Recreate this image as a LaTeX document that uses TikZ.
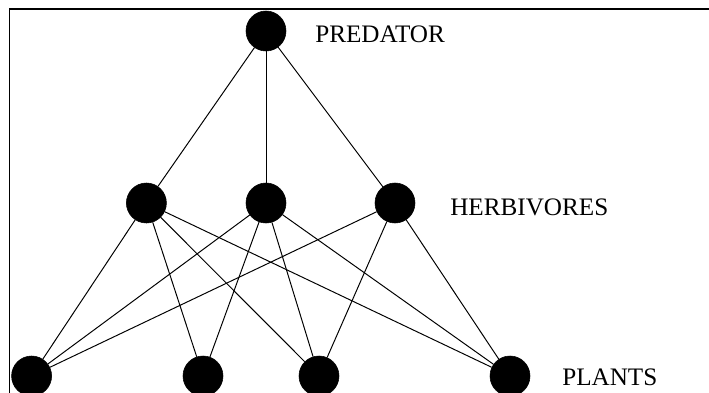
\documentclass[tikz,border=0pt]{standalone}
\usepackage{fontspec}
\setmainfont{Liberation Serif}
\begin{document}
\begin{tikzpicture}[
    species/.style={draw, circle, fill=black, minimum size=1cm, inner sep=0pt},
    link/.style={line width=0.7pt},
    level/.style={inner sep=0pt, anchor=base west, font=\fontsize{17.9}{20}\selectfont}
  ]
  \clip (0,0) rectangle (17.725,9.8);

  % frame
  \draw[line width=1.2pt] (0.24,-1) rectangle (18.5,9.575);

  % food web nodes
  \node[species] (pred) at (6.65,9.025) {};

  \node[species] (herbA) at (3.66,4.725) {};
  \node[species] (herbB) at (6.65,4.725) {};
  \node[species] (herbC) at (9.875,4.725) {};

  \node[species] (plantA) at (0.79,0.4) {};
  \node[species] (plantB) at (5.075,0.4) {};
  \node[species] (plantC) at (7.975,0.4) {};
  \node[species] (plantD) at (12.75,0.4) {};

  % feeding links
  \foreach \h in {herbA,herbB,herbC}
    \draw[link] (pred) -- (\h);
  \foreach \p in {plantA,plantB,plantC,plantD} {
    \draw[link] (herbA) -- (\p);
    \draw[link] (herbB) -- (\p);
  }
  \foreach \p in {plantA,plantC,plantD}
    \draw[link] (herbC) -- (\p);

  % trophic levels
  \node[level] (predlbl) at (7.875,8.75) {PREDATOR};
  \node[level] (herblbl) at (11.25,4.425) {HERBIVORES};
  \node[level] (plantlbl) at (14.05,0.175) {PLANTS};
\end{tikzpicture}
\end{document}
